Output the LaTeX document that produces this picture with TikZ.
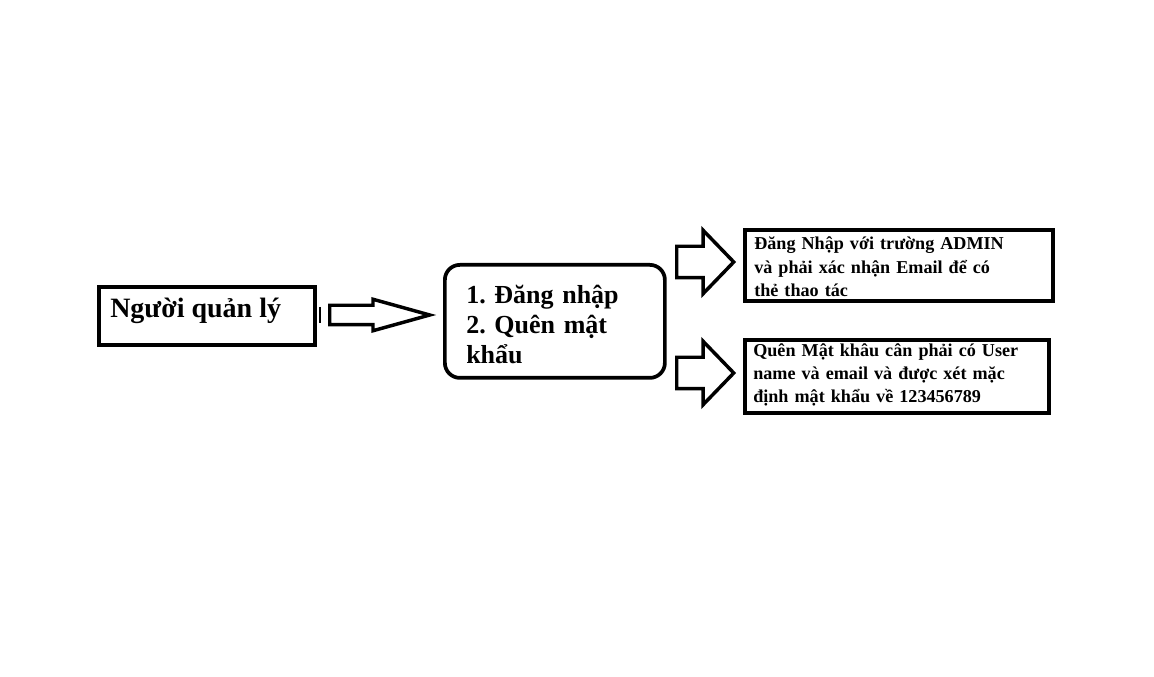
\documentclass[tikz,border=0pt]{standalone}
\usepackage{fontspec}
\setmainfont{Liberation Serif}
\usetikzlibrary{shapes.arrows}
\frenchspacing
\tikzset{
    box/.style={
        draw, line width=2.8pt,
        anchor=north west, inner sep=0pt,
    },
    boxtext/.style={
        anchor=base west, inner sep=0pt,
        align=left, font=\bfseries,
    },
    blockarrow/.style={
        single arrow, draw, line width=2.6pt,
        anchor=tail, inner xsep=0pt,
        single arrow head indent=0pt,
    },
}

\begin{document}
\begin{tikzpicture}[x=0.75pt, y=0.75pt]
        \useasboundingbox (0,0) rectangle (1154,-677);
        % left box
        \node (nql) at (97,-285) [box, minimum width=162pt, minimum height=43.5pt] {};
        \node (nqltext) at (110,-318) [boxtext, font=\fontsize{21}{25}\selectfont\bfseries] {Người quản lý};
        \draw[line width=1.5pt] (320,-307) -- (320,-323);
        \node (a1) at (328,-315) [blockarrow, inner ysep=6pt, minimum height=75pt,
            minimum width=21pt, single arrow head extend=4.5pt,
            single arrow tip angle=31] {};
        % menu box
        \node (menu) at (443,-263) [box, rounded corners=11.25pt, minimum width=165pt, minimum height=84.75pt] {};
        \node (menutext) at (466,-304) [boxtext, text width=150pt,
            font=\fontsize{19.5}{22.5}\selectfont\bfseries] {1. Đăng nhập\\2. Quên mật\\khẩu};
        % arrows to the two notes
        \node (a2) at (675,-262) [blockarrow, inner ysep=10.5pt, minimum height=42.75pt,
            minimum width=45pt, single arrow head extend=12pt, single arrow tip angle=92] {};
        \node (a3) at (675,-373) [blockarrow, inner ysep=10.5pt, minimum height=42.75pt,
            minimum width=45pt, single arrow head extend=12pt, single arrow tip angle=92] {};
        % notes
        \node (login) at (743,-228) [box, minimum width=231pt, minimum height=53.25pt] {};
        \node (logintext) at (754,-250) [boxtext, text width=225pt,
            font=\fontsize{13.6}{17.4}\selectfont\bfseries] {Đăng Nhập với trường ADMIN\\và phải xác nhận Email để có\\thẻ thao tác};
        \node (forgot) at (743,-338) [box, minimum width=228pt, minimum height=54.75pt] {};
        \node (forgottext) at (753,-357) [boxtext, text width=220pt,
            font=\fontsize{13.6}{17.25}\selectfont\bfseries] {Quên Mật khâu cân phải có User\\name và email và được xét mặc\\định mật khẩu về 123456789};
\end{tikzpicture}
\end{document}
